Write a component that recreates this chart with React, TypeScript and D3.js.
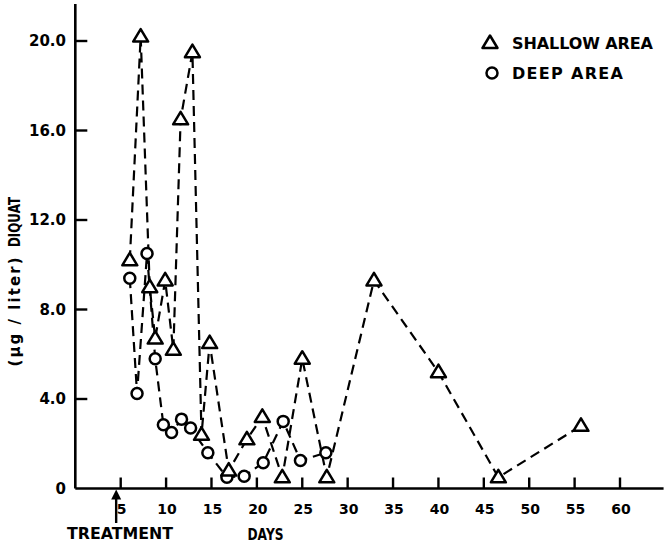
import React from "react";
import * as d3 from "d3";

const shallowDays = [6, 7.2, 8.2, 8.8, 9.9, 10.8, 11.6, 12.9, 13.9, 14.8, 16.9, 18.9, 20.6, 22.8, 25.0, 27.7, 32.9, 40.0, 46.6, 55.7];
const shallowValues = [10.2, 20.2, 9.0, 6.7, 9.3, 6.2, 16.5, 19.5, 2.4, 6.5, 0.8, 2.2, 3.2, 0.5, 5.8, 0.5, 9.3, 5.2, 0.5, 2.8];
const deepDays = [6, 6.8, 7.9, 8.8, 9.7, 10.6, 11.7, 12.7, 14.6, 16.7, 18.6, 20.7, 22.9, 24.8, 27.6];
const deepValues = [9.4, 4.25, 10.5, 5.8, 2.85, 2.5, 3.1, 2.7, 1.6, 0.5, 0.55, 1.15, 3.0, 1.25, 1.6];
const xTicks = [5, 10, 15, 20, 25, 30, 35, 40, 45, 50, 55, 60];
const yTicks = [0, 4, 8, 12, 16, 20];
const yTickLabels = ["0", "4.0", "8.0", "12.0", "16.0", "20.0"];
const treatmentDay = 4.5;

const FONT = "'DejaVu Sans', sans-serif";

export default function App() {
  const x = d3.scaleLinear().domain([5, 60]).range([120.7, 620]);
  const y = d3.scaleLinear().domain([0, 20]).range([488.5, 41]);
  const x0 = x(0);
  const y0 = y(0);
  const xEnd = x(64.8);
  const yTop = y(21.65);

  const line = d3.line<[number, number]>().x((d) => x(d[0])).y((d) => y(d[1]));
  const shallow: [number, number][] = shallowDays.map((d, i) => [d, shallowValues[i]]);
  const deep: [number, number][] = deepDays.map((d, i) => [d, deepValues[i]]);

  const tri = "M0,-7.5L7.5,5L-7.5,5Z";
  const tx = x(treatmentDay);

  return (
    <svg width={664} height={545} style={{ position: "absolute", left: 0, top: 0, background: "#fff" }} fontFamily={FONT} fontWeight="bold">
      <rect x={0} y={0} width={664} height={545} fill="#fff" />
      {/* axes */}
      <line x1={x0} y1={yTop} x2={x0} y2={y0} stroke="#000" strokeWidth={2.6} />
      <line x1={x0} y1={y0} x2={xEnd} y2={y0} stroke="#000" strokeWidth={2.6} />
      {yTicks.filter((t) => t > 0).map((t) => (
        <line key={"yt" + t} x1={x0} x2={x0 + 12} y1={y(t)} y2={y(t)} stroke="#000" strokeWidth={2.4} />
      ))}
      {xTicks.map((t) => (
        <line key={"xt" + t} x1={x(t)} x2={x(t)} y1={y0} y2={y0 - 11} stroke="#000" strokeWidth={2.4} />
      ))}
      {yTicks.map((t, i) => (
        <text key={"yl" + t} x={66} y={y(t)} dy="0.36em" textAnchor="end" fontSize={15}>
          {yTickLabels[i]}
        </text>
      ))}
      {xTicks.map((t) => (
        <text key={"xl" + t} x={x(t) + 1} y={y0 + 20} dy="0.36em" textAnchor="middle" fontSize={14}>
          {t}
        </text>
      ))}
      {/* axis titles */}
      <text x={120} y={539} textAnchor="middle" fontSize={16} textLength={106} lengthAdjust="spacingAndGlyphs">TREATMENT</text>
      <text x={265.5} y={540} textAnchor="middle" fontSize={16} textLength={36} lengthAdjust="spacingAndGlyphs">DAYS</text>
      <text transform="translate(20,222) rotate(-90)" textAnchor="middle" fontSize={16} textLength={50} lengthAdjust="spacingAndGlyphs">DIQUAT</text>
      <text transform="translate(20,312) rotate(-90)" textAnchor="middle" fontSize={15} textLength={109}>(µg / liter)</text>
      {/* treatment arrow */}
      <line x1={tx} x2={tx} y1={497} y2={523} stroke="#000" strokeWidth={2.4} />
      <path d={`M${tx},${y0 + 1}L${tx + 5},${y0 + 11}L${tx - 5},${y0 + 11}Z`} fill="#000" />
      {/* series lines */}
      <path d={line(shallow) || ""} fill="none" stroke="#000" strokeWidth={2.2} strokeDasharray="10,6" />
      <path d={line(deep) || ""} fill="none" stroke="#000" strokeWidth={2.2} strokeDasharray="10,6" />
      {/* markers */}
      {deep.map((d, i) => (
        <circle key={"c" + i} cx={x(d[0])} cy={y(d[1])} r={5.5} fill="#fff" stroke="#000" strokeWidth={2.5} />
      ))}
      {shallow.map((d, i) => (
        <path key={"t" + i} d={tri} transform={`translate(${x(d[0])},${y(d[1])})`} fill="#fff" stroke="#000" strokeWidth={2.5} strokeLinejoin="round" />
      ))}
      {/* legend */}
      <path d={tri} transform="translate(490,43)" fill="#fff" stroke="#000" strokeWidth={2.5} strokeLinejoin="round" />
      <text x={512} y={43} dy="0.36em" fontSize={16} textLength={141}>SHALLOW AREA</text>
      <circle cx={492} cy={73} r={5.5} fill="#fff" stroke="#000" strokeWidth={2.5} />
      <text x={512} y={73} dy="0.36em" fontSize={16} textLength={111}>DEEP AREA</text>
    </svg>
  );
}
